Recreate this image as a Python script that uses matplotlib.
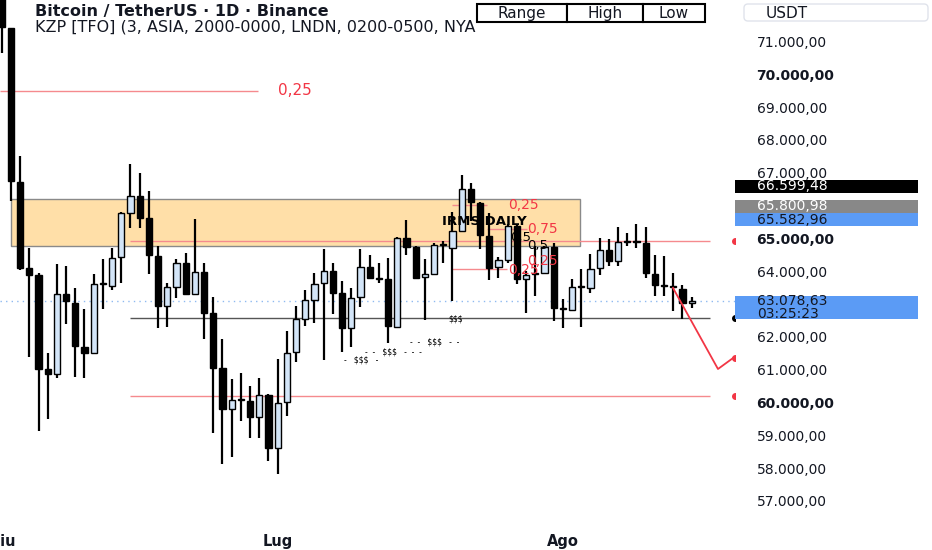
import numpy as np
import matplotlib
matplotlib.use("Agg")
from matplotlib import pyplot as plt
from matplotlib.patches import Rectangle, FancyBboxPatch
from matplotlib import transforms

# daily candles, 1 Giu .. 15 Ago
opens = [72600, 71400, 66730, 64110, 63870, 61030, 60880, 63320, 63040, 61700,
         61520, 63620, 63560, 64440, 65760, 66300, 65630, 64470, 62950, 63530,
         64260, 63320, 63990, 62740, 61060, 59810, 60080, 60050, 59570, 60240,
         58620, 60020, 61550, 62550, 63130, 63650, 64020, 63350, 62280, 63220,
         64140, 63800, 63770, 62310, 65020, 64750, 63830, 63930, 64810, 64720,
         65240, 66520, 66090, 65060, 64140, 64350, 65390, 63770, 63930, 63960,
         64750, 62890, 62830, 63530, 63500, 64110, 64660, 64320, 64900, 64930,
         64870, 63930, 63590, 63560, 63470, 63040]
highs = [72800, 71420, 67500, 64720, 63960, 61520, 64230, 64170, 63500, 62860,
         63930, 64380, 64720, 65790, 67280, 66980, 66430, 64780, 63650, 64380,
         64570, 65600, 64260, 63220, 61940, 60730, 60900, 60510, 60760, 60260,
         61330, 62190, 62950, 63440, 63960, 64690, 64260, 63710, 63500, 64690,
         64500, 64260, 64410, 65050, 65570, 64760, 64380, 64870, 64930, 65790,
         66940, 66700, 66100, 65760, 64440, 65450, 65400, 64020, 64780, 64780,
         64870, 63160, 63770, 64080, 64540, 65020, 64990, 65360, 65180, 65450,
         65360, 64500, 64470, 63960, 63590, 63200]
lows = [70660, 66150, 64050, 61400, 59140, 59500, 60760, 62400, 60790, 60760,
        61500, 62860, 63440, 63650, 65330, 65330, 63930, 62280, 62310, 63190,
        63300, 63300, 61940, 59080, 58130, 58350, 59440, 58930, 58930, 58220,
        57820, 59600, 61240, 62340, 62430, 61300, 62710, 61550, 61700, 62920,
        63790, 63650, 61820, 62300, 64500, 63770, 62520, 63900, 64260, 63100,
        65240, 65540, 64690, 63740, 63800, 64260, 63620, 62740, 63250, 63930,
        62490, 62280, 62830, 62310, 63350, 63870, 64170, 64170, 64780, 64720,
        63800, 63250, 63250, 62800, 62550, 62890]
closes = [71430, 66760, 64110, 63870, 61030, 60880, 63320, 63100, 61730, 61520,
          63620, 63650, 64410, 65760, 66300, 65630, 64500, 62950, 63530, 64260,
          63320, 63990, 62740, 61060, 59810, 60080, 60100, 59570, 60240, 58620,
          59990, 61520, 62550, 63130, 63620, 64020, 63350, 62280, 63190, 64140,
          63800, 63770, 62340, 65020, 64750, 63800, 63930, 64810, 64830, 65240,
          66520, 66120, 65090, 64110, 64350, 65390, 63770, 63900, 63960, 64750,
          62890, 62860, 63530, 63540, 64080, 64660, 64320, 64900, 64930, 64900,
          63960, 63590, 63560, 63530, 63040, 63078.63]

month_ticks = [0, 30, 61]
month_labels = ["Giu", "Lug", "Ago"]
# 63.000 and 66.000 sit under the price labels
price_ticks = [57000, 58000, 59000, 60000, 61000, 62000, 64000, 65000,
               67000, 68000, 69000, 70000, 71000]
bold_ticks = [60000, 65000, 70000]

# zone + levels
zone = (1.0, 62.9, 64769, 66201)
fib_top = (69492, -0.2, 27.9, "0,25", 30.0)
levels_red = [64930, 60207]
level_gray = 62566
levels_start, levels_end = 13.9, 77.0
proj_x = [72.97, 77.86, 79.5]
proj_y = [63490, 61021, 61356]
last_price = 63078.63

box_texts = [("0,25", 55.0, 66018, "#f23645"), ("IRMS DAILY", 47.9, 65500, "black"),
             ("0,75", 57.1, 65287, "#f23645"), ("0,5", 55.25, 65013, "black"),
             ("0,5", 57.1, 64769, "black"), ("0,25", 57.1, 64320, "#f23645"),
             ("0,25", 55.0, 64030, "#f23645")]
box_lines = [(48.9, 52.8, 66018), (52.8, 57.1, 65287), (49.0, 54.9, 64067)]
liq_texts = [("$$$", 49.4, 62555), ("-  -   $$$   -  -", 47.1, 61844),
             ("-  -   $$$   -  -  -", 42.6, 61539), ("-   $$$   -", 39.1, 61295)]
edge_marks = [(64930, "#f23645"), (60207, "#f23645"), (61356, "#f23645"), (62566, "black")]

W, H = 932, 550
ax_left, ax_right, ax_bot = 0, 735, 525
ylim = (56268, 72264)
xlim = (-0.185, 79.71)

fig = plt.figure(figsize=(W / 100, H / 100), dpi=100)
fig.patch.set_facecolor("white")
ax = fig.add_axes([ax_left / W, (H - ax_bot) / H, (ax_right - ax_left) / W, ax_bot / H])
ax.set_xlim(*xlim)
ax.set_ylim(*ylim)
for s in ax.spines.values():
    s.set_visible(False)

idx = np.arange(len(opens))
o = np.array(opens, float)
c = np.array(closes, float)
bull = c >= o
bottom = np.minimum(o, c)
height = np.maximum(np.abs(c - o), 30)
face = np.where(bull, "#d3e5f8", "black")

ax.vlines(idx, lows, highs, color="black", lw=1.6, zorder=3)
ax.bar(idx, height, bottom=bottom, width=0.68, color=face, edgecolor="black",
       linewidth=1.0, zorder=4)

# zone
ax.add_patch(Rectangle((zone[0], zone[2]), zone[1] - zone[0], zone[3] - zone[2],
                       facecolor="#ffdfa8", edgecolor="#8a8a8a", lw=1.0, zorder=1))

red_line = "#f58a8e"
ax.hlines(fib_top[0], fib_top[1], fib_top[2], color=red_line, lw=1.0, zorder=2)
ax.text(fib_top[4], fib_top[0], fib_top[3], color="#f23645", fontsize=11,
        va="center", ha="left", zorder=5)
ax.hlines(levels_red, levels_start, levels_end, color=red_line, lw=1.0, zorder=2)
ax.hlines(level_gray, levels_start, levels_end, color="#555555", lw=1.0, zorder=2)
ax.axhline(last_price, color="#8fbaf0", lw=1.0, ls=(0, (1, 3)), zorder=2)
ax.plot(proj_x, proj_y, color="#f23645", lw=1.3, zorder=5)

for x0, x1, y in box_lines:
    ax.hlines(y, x0, x1, color=red_line, lw=1.0, zorder=2)
for t, x, y, col in box_texts:
    ax.text(x, y, t, color=col, fontsize=10 if col != "black" else 9.5,
            fontweight="bold" if t == "IRMS DAILY" else "normal",
            va="center", ha="left", zorder=6)
for t, x, y in liq_texts:
    ax.text(x, y, t, color="black", fontsize=5.5, va="center", ha="center", zorder=6)
for y, col in edge_marks:
    ax.plot([xlim[1]], [y], marker="o", ms=4, color=col, zorder=6)

# axes ticks
ax.set_xticks(month_ticks)
ax.set_xticklabels(month_labels, fontweight="bold", fontsize=10.5, color="#131722")
ax.tick_params(axis="x", length=0, pad=6.5)
ax.yaxis.tick_right()
ax.set_yticks(price_ticks)
ax.set_yticklabels([f"{v:,.2f}".replace(",", "X").replace(".", ",").replace("X", ".")
                    for v in price_ticks], fontsize=10, color="#131722")
for lab, v in zip(ax.get_yticklabels(), price_ticks):
    if v in bold_ticks:
        lab.set_fontweight("bold")
ax.tick_params(axis="y", length=0, pad=15.5)

# price scale labels
ax2 = fig.add_axes([ax_right / W, (H - ax_bot) / H, (W - ax_right) / W, ax_bot / H], sharey=ax)
ax2.axis("off")
ax2.patch.set_alpha(0)
ppx = (ylim[1] - ylim[0]) / ax_bot
blend = transforms.blended_transform_factory(ax2.transAxes, ax2.transData)
bw = (918 - ax_right) / (W - ax_right)
tx = (757 - ax_right) / (W - ax_right)

def price_box(price, text, face, tcol, up=6.5, down=6.5, shift=0.0, ty=0.0):
    yc = price + shift * ppx
    ax2.add_patch(Rectangle((0, yc - down * ppx), bw, (up + down) * ppx, transform=blend,
                            facecolor=face, edgecolor="none", zorder=5))
    ax2.text(tx, yc + ty * ppx, text, transform=blend, color=tcol, fontsize=10,
             va="center", ha="left", zorder=6, linespacing=0.85)

price_box(66599.48, "66.599,48", "black", "white", shift=-0.5)
price_box(65800.98, "65.800,98", "#888888", "white", shift=6)
price_box(65582.96, "65.582,96", "#5b9bf5", "#131722", shift=-0.5)
price_box(last_price, "63.078,63\n03:25:23", "#5b9bf5", "#131722", up=5, down=17.5, ty=-6)

# header
ov = fig.add_axes([0, 0, 1, 1])
ov.set_xlim(0, W)
ov.set_ylim(H, 0)
ov.axis("off")
ov.patch.set_alpha(0)
ov.add_patch(FancyBboxPatch((744, 4), 184, 17, boxstyle="round,pad=0,rounding_size=4",
                            facecolor="white", edgecolor="#e0e3eb", lw=1.0))
ov.text(766, 13, "USDT", fontsize=11, color="#131722", va="center", ha="left")
ov.text(35, 11.5, "Bitcoin / TetherUS · 1D · Binance", fontsize=11.5, fontweight="bold",
        color="#131722", va="center", ha="left")
ov.text(35, 27.5, "KZP [TFO] (3, ASIA, 2000-0000, LNDN, 0200-0500, NYA", fontsize=11.5,
        color="#131722", va="center", ha="left")
for x0, x1, lab in [(477, 567, "Range"), (567, 643, "High"), (643, 705, "Low")]:
    ov.add_patch(Rectangle((x0, 4), x1 - x0, 18, facecolor="white", edgecolor="black", lw=1.5))
    ov.text((x0 + x1) / 2, 13.5, lab, fontsize=11, color="#131722", va="center", ha="center")

fig.savefig("out.png", dpi=100, facecolor="white")
